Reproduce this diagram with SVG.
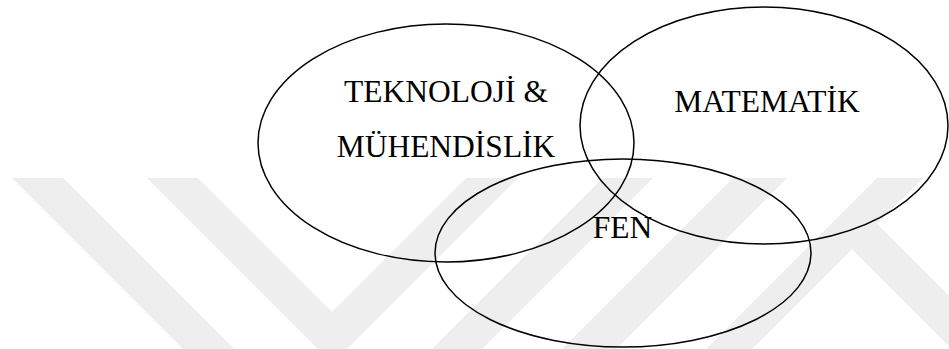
<svg xmlns="http://www.w3.org/2000/svg" width="949" height="349" viewBox="0 0 949 349">
  <style>
    .wm { fill: #eeeeee; stroke: none; }
    .set { fill: none; stroke: #000000; stroke-width: 1.5; }
    .lbl { font-family: "Liberation Serif", "Times New Roman", serif; font-size: 31.5px; fill: #000000; text-anchor: middle; }
  </style>
  <rect x="0" y="0" width="949" height="349" fill="#ffffff"/>
  <g id="watermark">
    <polygon class="wm" points="12,178 63,178 234,349 183,349"/>
    <polygon class="wm" points="147,178 198,178 332,312 466,178 518,178 347,349 318,349"/>
    <polygon class="wm" points="603,178 653,178 482,349 432,349"/>
    <polygon class="wm" points="733,178 787,178 616,349 562,349"/>
    <polygon class="wm" points="877,178 923,178 752,349 706,349"/>
    <polygon class="wm" points="852,249 877,224 1002,349 952,349"/>
  </g>
  <g id="teknoloji">
    <ellipse class="set" cx="446" cy="143" rx="188" ry="119"/>
    <text class="lbl" x="446" y="102">TEKNOLOJİ &amp;</text>
    <text class="lbl" x="446" y="157">MÜHENDİSLİK</text>
  </g>
  <g id="matematik">
    <ellipse class="set" cx="764" cy="125.5" rx="184" ry="118.5"/>
    <text class="lbl" x="767" y="112">MATEMATİK</text>
  </g>
  <g id="fen">
    <ellipse class="set" cx="623" cy="253" rx="188" ry="94"/>
    <text class="lbl" x="622.5" y="238">FEN</text>
  </g>
  <g id="connectors"></g>
</svg>
